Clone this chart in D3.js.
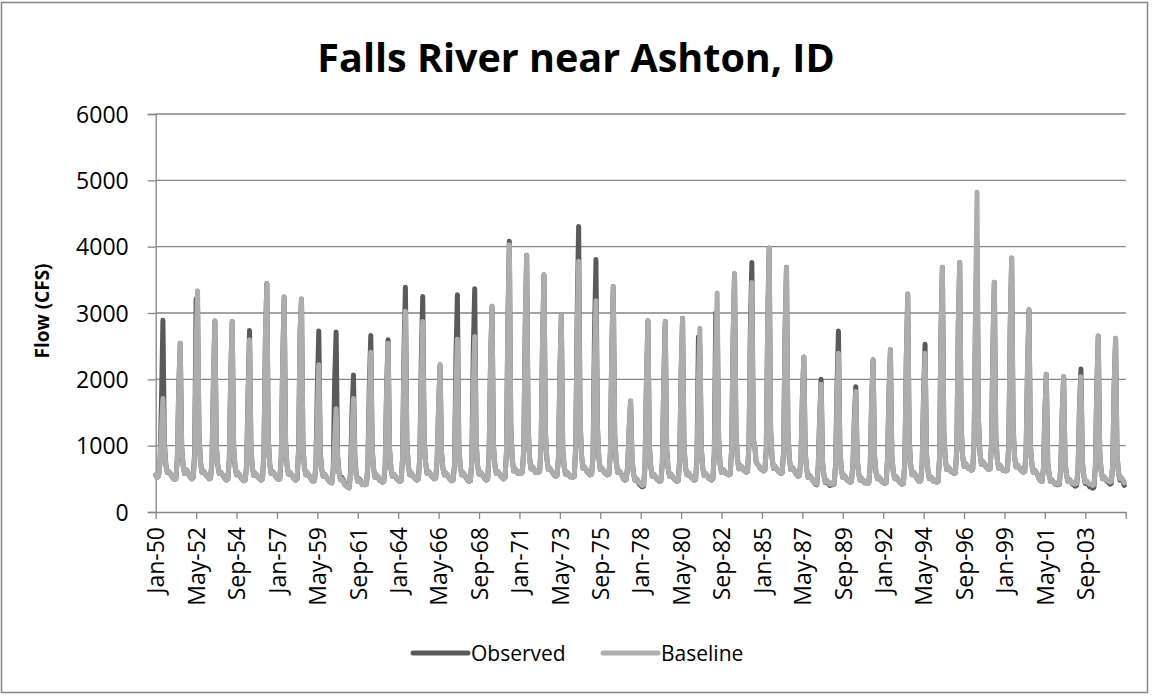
<!DOCTYPE html>
<html>
<head>
<meta charset="utf-8">
<script src="https://cdn.jsdelivr.net/npm/d3@7"></script>
<style>
  body { margin: 0; background: #fff; }
  svg text { font-family: "Open Sans", "Liberation Sans", sans-serif; fill: #000; }
</style>
</head>
<body>
<svg width="1152" height="698"></svg>
<script>
// monthly flow (cfs), one row per year, Jan..Dec, 1950-2005
var observedRows = [
  [560,520,540,760,1650,2890,1050,720,600,610,580,540],
  [510,490,500,820,1900,2545,980,700,580,640,610,560],
  [520,500,520,900,3210,3100,1150,760,600,620,590,550],
  [530,500,510,760,2000,2880,1000,700,580,600,570,540],
  [500,480,500,800,2100,2870,980,680,560,590,560,520],
  [490,470,480,700,1800,2735,950,660,550,580,560,520],
  [500,480,500,900,2600,3445,1100,720,580,610,580,540],
  [510,490,500,850,2300,3240,1050,700,570,600,570,530],
  [500,480,500,950,2700,3210,1000,680,560,590,560,520],
  [480,460,470,700,1900,2730,900,640,540,570,540,500],
  [470,450,440,650,2000,2715,850,600,500,520,480,420],
  [400,380,370,600,1500,2065,800,560,470,500,470,420],
  [430,410,420,700,1900,2660,950,640,520,560,530,480],
  [470,450,460,700,1900,2595,950,650,540,570,540,500],
  [480,460,470,800,2400,3390,1050,700,560,590,560,520],
  [500,480,500,850,2300,3250,1100,740,580,610,580,540],
  [520,500,510,800,1600,2220,900,660,560,590,560,520],
  [490,470,480,700,2300,3275,1000,680,560,590,560,520],
  [480,460,470,750,2400,3365,1050,700,570,600,570,530],
  [500,480,500,900,2300,3100,1000,700,580,610,580,540],
  [520,500,520,900,2900,4080,1300,800,620,650,620,580],
  [600,580,600,950,2800,3870,1300,820,650,680,650,600],
  [620,600,610,1000,2600,3575,1200,800,640,660,630,590],
  [560,540,550,800,2100,2965,950,680,570,600,570,530],
  [540,520,540,1000,3000,4305,1400,860,660,680,650,600],
  [580,560,570,850,2700,3805,1300,820,640,660,630,590],
  [580,560,570,900,2500,3400,1150,760,600,620,590,550],
  [500,480,490,700,1250,1675,800,580,480,500,470,420],
  [400,380,390,700,2000,2885,1000,680,540,570,540,500],
  [480,460,470,750,2000,2870,950,660,540,570,540,500],
  [480,460,470,800,2100,2920,1000,680,560,590,560,520],
  [500,480,490,800,2640,2500,950,660,550,580,550,510],
  [500,480,500,900,3000,2900,1100,720,600,640,620,580],
  [580,560,570,950,2600,3590,1200,800,650,700,680,640],
  [620,600,610,1000,2800,3760,1100,1000,750,720,690,650],
  [640,620,630,950,2900,3980,1250,820,660,690,660,620],
  [600,580,590,900,2700,3690,1200,800,640,670,640,600],
  [560,540,550,800,1700,2335,900,640,520,550,520,480],
  [450,420,410,700,1450,2000,750,540,440,470,440,400],
  [430,410,420,700,1900,2730,950,640,520,550,520,480],
  [470,450,460,700,1400,1890,800,580,480,510,480,440],
  [450,430,440,700,1700,2295,850,600,500,530,500,460],
  [450,430,440,800,1800,2445,850,600,500,530,500,460],
  [440,420,430,750,2300,3285,1100,720,560,600,570,520],
  [480,460,470,750,1800,2530,880,620,500,530,500,460],
  [470,450,460,800,2700,3690,1200,800,640,680,650,610],
  [600,580,590,950,2800,3760,1300,850,690,730,700,660],
  [650,630,640,1100,3000,4055,1400,900,720,760,730,690],
  [660,640,650,1000,2500,3465,1150,800,660,700,670,630],
  [640,620,630,1000,2800,3830,1300,830,680,710,680,640],
  [620,600,610,900,2200,3050,1000,720,600,630,600,560],
  [500,470,460,650,1500,2075,750,560,460,480,450,420],
  [430,410,420,650,1500,2040,750,560,460,490,460,420],
  [410,390,400,650,1600,2155,750,540,430,450,420,380],
  [380,360,370,700,1900,2655,900,620,500,530,500,460],
  [450,420,430,700,1900,2620,850,600,480,500,470,400]
];
var baselineRows = [
  [560,520,540,760,1250,1710,1000,700,600,610,580,540],
  [510,490,500,820,1900,2545,980,700,580,640,610,560],
  [520,500,520,850,2500,3335,1150,760,600,620,590,550],
  [530,500,510,760,2000,2880,1000,700,580,600,570,540],
  [500,480,500,800,2100,2870,980,680,560,590,560,520],
  [490,470,480,700,1700,2595,950,660,550,580,560,520],
  [500,480,500,900,2600,3445,1100,720,580,610,580,540],
  [510,490,500,850,2300,3240,1050,700,570,600,570,530],
  [500,480,500,950,2700,3210,1000,680,560,590,560,520],
  [480,460,470,700,1500,2220,880,640,540,570,540,500],
  [470,450,440,620,1100,1555,800,580,480,500,460,400],
  [390,370,360,560,1200,1710,760,540,460,490,460,410],
  [430,410,420,700,1700,2410,950,640,520,560,530,480],
  [470,450,460,700,1850,2545,950,650,540,570,540,500],
  [480,460,470,800,2200,3025,1050,700,560,590,560,520],
  [500,480,500,850,2000,2870,1100,740,580,610,580,540],
  [520,500,510,800,1600,2220,900,660,560,590,560,520],
  [490,470,480,700,1900,2605,1000,680,560,590,560,520],
  [480,460,470,750,1900,2645,1050,700,570,600,570,530],
  [500,480,500,900,2300,3100,1000,700,580,610,580,540],
  [520,500,520,900,2900,4030,1300,800,620,650,620,580],
  [600,580,600,950,2800,3870,1300,820,650,680,650,600],
  [620,600,610,1000,2600,3575,1200,800,640,660,630,590],
  [560,540,550,800,2100,2965,950,680,570,600,570,530],
  [540,520,540,1000,2800,3780,1400,860,660,680,650,600],
  [580,560,570,850,2300,3185,1300,820,640,660,630,590],
  [580,560,570,900,2500,3400,1150,760,600,620,590,550],
  [500,480,490,700,1250,1675,800,580,480,500,470,440],
  [420,400,410,700,2000,2885,1000,680,540,570,540,500],
  [480,460,470,750,2000,2870,950,660,540,570,540,500],
  [480,460,470,800,2100,2920,1000,680,560,590,560,520],
  [500,480,490,780,2000,2770,950,660,550,580,550,510],
  [500,480,500,850,2400,3300,1100,720,600,640,620,580],
  [580,560,570,950,2600,3590,1200,800,650,700,680,640],
  [620,600,610,1000,2600,3460,1100,1000,750,720,690,650],
  [640,620,630,950,2900,3980,1250,820,660,690,660,620],
  [600,580,590,900,2700,3690,1200,800,640,670,640,600],
  [560,540,550,800,1700,2335,900,640,520,550,520,480],
  [450,430,420,700,1400,1925,750,540,450,480,450,420],
  [440,420,430,700,1700,2395,950,640,520,550,520,480],
  [470,450,460,700,1350,1815,800,580,480,510,480,440],
  [450,430,440,700,1700,2295,850,600,500,530,500,460],
  [450,430,440,800,1800,2445,850,600,500,530,500,460],
  [440,420,430,750,2300,3285,1100,720,560,600,570,520],
  [480,460,470,750,1750,2395,880,620,500,530,500,460],
  [470,450,460,800,2700,3690,1200,800,640,680,650,610],
  [600,580,590,950,2800,3760,1300,850,690,730,700,660],
  [650,630,640,1100,3200,4820,1400,900,720,760,730,690],
  [660,640,650,1000,2500,3465,1150,800,660,700,670,630],
  [640,620,630,1000,2800,3830,1300,830,680,710,680,640],
  [620,600,610,900,2200,3050,1000,720,600,630,600,560],
  [500,470,460,650,1500,2075,750,560,460,480,450,420],
  [440,420,430,650,1500,2040,750,560,460,490,460,430],
  [440,420,430,650,1550,2040,750,540,450,470,440,420],
  [420,400,410,700,1900,2655,900,620,500,530,500,470],
  [480,450,460,700,1900,2620,850,600,500,520,490,440]
];
var startYear = 1950;
var yTicks = [0, 1000, 2000, 3000, 4000, 5000, 6000];
var tickStep = 28; // months between x labels
var seriesNames = ["Observed", "Baseline"];
var seriesColors = ["#5a5a5a", "#adadad"];

var observed = d3.merge(observedRows);
var baseline = d3.merge(baselineRows);
var nMonths = observed.length;

var svg = d3.select("svg");

// outer chart border
svg.append("rect")
  .attr("x", 1.5).attr("y", 2.5).attr("width", 1146).attr("height", 690)
  .attr("fill", "none").attr("stroke", "#878787").attr("stroke-width", 1.5);

var x = d3.scaleLinear().domain([0, nMonths]).range([155.7, 1125.7]);
var y = d3.scaleLinear().domain([0, 6000]).range([512, 114]);

// gridlines
svg.append("g").selectAll("line")
  .data(yTicks.slice(1))
  .join("line")
  .attr("x1", x(0)).attr("x2", x(nMonths))
  .attr("y1", d => y(d)).attr("y2", d => y(d))
  .attr("stroke", "#868686").attr("stroke-width", 1.3);

// y axis
var yAxis = svg.append("g")
  .attr("transform", "translate(" + x(0) + ",0)")
  .call(d3.axisLeft(y).tickValues(yTicks).tickSize(8).tickPadding(19).tickFormat(d3.format("d")));
yAxis.select(".domain").attr("stroke", "#868686").attr("stroke-width", 1.3);
yAxis.selectAll(".tick line").attr("stroke", "#868686").attr("stroke-width", 1.3);
yAxis.selectAll("text").style("font-size", "23px").attr("dy", "0.36em");

// x axis
var xTickVals = d3.range(0, nMonths + 1, tickStep);
var fmt = d3.timeFormat("%b-%y");
var xAxis = svg.append("g")
  .attr("transform", "translate(0," + y(0) + ")")
  .call(d3.axisBottom(x).tickValues(xTickVals).tickSize(7).tickSizeOuter(0)
    .tickFormat(d => d >= nMonths ? "" : fmt(new Date(startYear, d, 1))));
xAxis.select(".domain").attr("stroke", "#868686").attr("stroke-width", 1.3);
xAxis.selectAll(".tick line").attr("stroke", "#868686").attr("stroke-width", 1.3);
xAxis.selectAll("text")
  .style("font-size", "23px")
  .attr("text-anchor", "end")
  .attr("transform", "rotate(-90)")
  .attr("x", -15).attr("y", 0).attr("dy", "0.36em");

// lines
var line = d3.line()
  .x((d, i) => x(i))
  .y(d => y(d));

[observed, baseline].forEach(function (s, k) {
  svg.append("path")
    .datum(s)
    .attr("d", line)
    .attr("fill", "none")
    .attr("stroke", seriesColors[k])
    .attr("stroke-width", 5)
    .attr("stroke-linejoin", "round")
    .attr("stroke-linecap", "round");
});

// title
svg.append("text")
  .attr("x", 576).attr("y", 72)
  .attr("text-anchor", "middle")
  .style("font-size", "39.5px").style("font-weight", "bold")
  .text("Falls River near Ashton, ID");

// y label
svg.append("text")
  .attr("transform", "translate(49,311) rotate(-90)")
  .attr("text-anchor", "middle")
  .style("font-size", "19px").style("font-weight", "bold")
  .text("Flow (CFS)");

// legend
var legendX = [413, 603];
seriesNames.forEach(function (name, k) {
  svg.append("line")
    .attr("x1", legendX[k]).attr("x2", legendX[k] + 55)
    .attr("y1", 653).attr("y2", 653)
    .attr("stroke", seriesColors[k]).attr("stroke-width", 5)
    .attr("stroke-linecap", "round");
  svg.append("text")
    .attr("x", legendX[k] + 58).attr("y", 653).attr("dy", "0.36em")
    .style("font-size", "21px")
    .text(name);
});
</script>
</body>
</html>
